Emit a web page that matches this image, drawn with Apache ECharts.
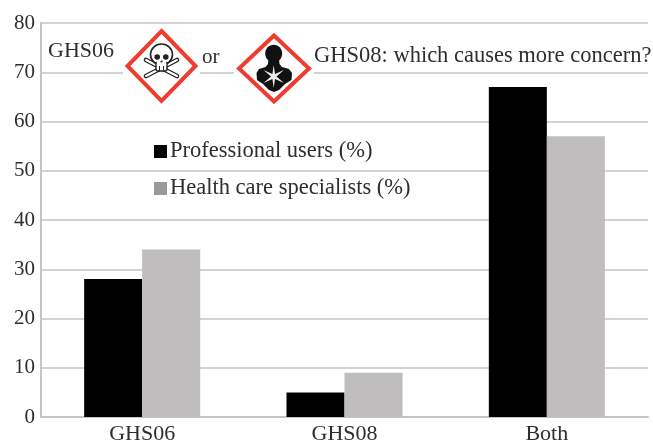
<!DOCTYPE html>
<html><head><meta charset="utf-8">
<style>html,body{margin:0;padding:0;background:#fff}#c{width:653px;height:442px}</style>
<script src="https://cdn.jsdelivr.net/npm/echarts@6/dist/echarts.min.js"></script>
</head><body><div id="c"></div>
<script>
const categories = ['GHS06', 'GHS08', 'Both'];
const professional = [28, 5, 67];
const specialists = [34, 9, 57];
const seriesNames = ['Professional users (%)', 'Health care specialists (%)'];
const FONT = '"Liberation Serif", serif';
const INK = '#2e2e2e';
const RED = '#ee3d30';

function diamond(cx, cy, rx, ry) {
  return {type: 'polygon', shape: {points: [[cx, cy - ry], [cx + rx, cy], [cx, cy + ry], [cx - rx, cy]]},
    style: {fill: '#fff', stroke: RED, lineWidth: 4}, z: 10};
}
function label(text, x, y, size) {
  return {type: 'text', x, y, style: {text, font: size + 'px ' + FONT, fill: INK, textVerticalAlign: 'middle'}, z: 10};
}
function bone(x1, y1, x2, y2) {
  return {type: 'line', shape: {x1, y1, x2, y2}, style: {stroke: '#222', lineWidth: 4.6, lineCap: 'round'}, z: 11};
}
function boneIn(x1, y1, x2, y2) {
  return {type: 'line', shape: {x1, y1, x2, y2}, style: {stroke: '#fff', lineWidth: 2, lineCap: 'round'}, z: 12};
}
const skull = [
  bone(146, 60, 177, 76), bone(177, 60, 146, 76),
  boneIn(146, 60, 177, 76), boneIn(177, 60, 146, 76),
  {type: 'ellipse', shape: {cx: 161.5, cy: 54.5, rx: 11, ry: 10.5}, style: {fill: '#fff', stroke: '#222', lineWidth: 1.6}, z: 13},
  {type: 'rect', shape: {x: 156, y: 62, width: 11, height: 9, r: 2}, style: {fill: '#fff', stroke: '#222', lineWidth: 1.4}, z: 13},
  {type: 'rect', shape: {x: 156.8, y: 60, width: 9.4, height: 5}, style: {fill: '#fff'}, z: 14},
  {type: 'circle', shape: {cx: 157.2, cy: 57, r: 2.8}, style: {fill: '#222'}, z: 14},
  {type: 'circle', shape: {cx: 165.8, cy: 57, r: 2.8}, style: {fill: '#222'}, z: 14},
  {type: 'circle', shape: {cx: 161.5, cy: 61.5, r: 1.1}, style: {fill: '#222'}, z: 14},
  {type: 'line', shape: {x1: 159.5, y1: 66, x2: 159.5, y2: 71}, style: {stroke: '#222', lineWidth: 1}, z: 14},
  {type: 'line', shape: {x1: 163.5, y1: 66, x2: 163.5, y2: 71}, style: {stroke: '#222', lineWidth: 1}, z: 14}
];
const person = [
  {type: 'ellipse', shape: {cx: 273.7, cy: 53.5, rx: 8.5, ry: 8.8}, style: {fill: '#111'}, z: 11},
  {type: 'polygon', shape: {points: [[268.5, 58], [279, 58], [279.5, 64], [282, 67], [289, 69], [292, 73], [291.5, 80], [285, 84], [279, 90], [274, 92], [269, 90], [263, 84], [257, 80], [256.5, 73], [259, 69], [265.5, 67], [268, 64]]},
    style: {fill: '#111'}, z: 11},
  {type: 'polygon', shape: {points: [[273.7, 65], [275, 74], [284, 70], [276.5, 76.5], [284, 83], [275, 79], [273.7, 88], [272.4, 79], [263.5, 83], [271, 76.5], [263.5, 70], [272.4, 74]]},
    style: {fill: '#ececec'}, z: 12}
];

const chart = echarts.init(document.getElementById('c'), null, {renderer: 'canvas'});
chart.setOption({
  animation: false,
  backgroundColor: '#fff',
  grid: {left: 41, right: 5, top: 23, bottom: 25, outerBoundsMode: 'none'},
  legend: {
    orient: 'vertical', left: 154, top: 140, padding: 0, itemGap: 14, itemWidth: 13, itemHeight: 13,
    textStyle: {fontFamily: FONT, fontSize: 22.5, color: INK, padding: [0, 0, 0, -2]},
    data: [
      {name: seriesNames[0], icon: 'rect', itemStyle: {color: '#000'}},
      {name: seriesNames[1], icon: 'rect', itemStyle: {color: '#9a9a9a'}}
    ]
  },
  xAxis: {
    type: 'category', data: categories,
    axisLine: {lineStyle: {color: '#c4c4c4', width: 2}}, axisTick: {show: false},
    axisLabel: {fontFamily: FONT, fontSize: 22, color: INK, margin: 6}
  },
  yAxis: {
    type: 'value', min: 0, max: 80, interval: 10,
    axisLine: {show: true, lineStyle: {color: '#c4c4c4', width: 2}}, axisTick: {show: false},
    splitLine: {lineStyle: {color: '#c4c4c4', width: 1.5}},
    axisLabel: {fontFamily: FONT, fontSize: 21, color: INK, margin: 6, padding: [2, 0, 0, 0]}
  },
  series: [
    {name: seriesNames[0], type: 'bar', data: professional, barWidth: 58, barGap: 0, itemStyle: {color: '#000'}},
    {name: seriesNames[1], type: 'bar', data: specialists, barWidth: 58, itemStyle: {color: '#bfbdbe'}}
  ],
  graphic: {elements: [
    {type: 'rect', shape: {x: 123, y: 26, width: 77, height: 80}, style: {fill: '#fff'}, z: 9},
    {type: 'rect', shape: {x: 234, y: 30, width: 80, height: 78}, style: {fill: '#fff'}, z: 9},
    label('GHS06', 48, 51, 22),
    label('or', 202, 57, 21),
    label('GHS08: which causes more concern?', 314, 56, 22.5),
    diamond(161.5, 66, 34, 35),
    diamond(274, 68.5, 35, 33),
    ...skull, ...person
  ]}
});
</script></body></html>
